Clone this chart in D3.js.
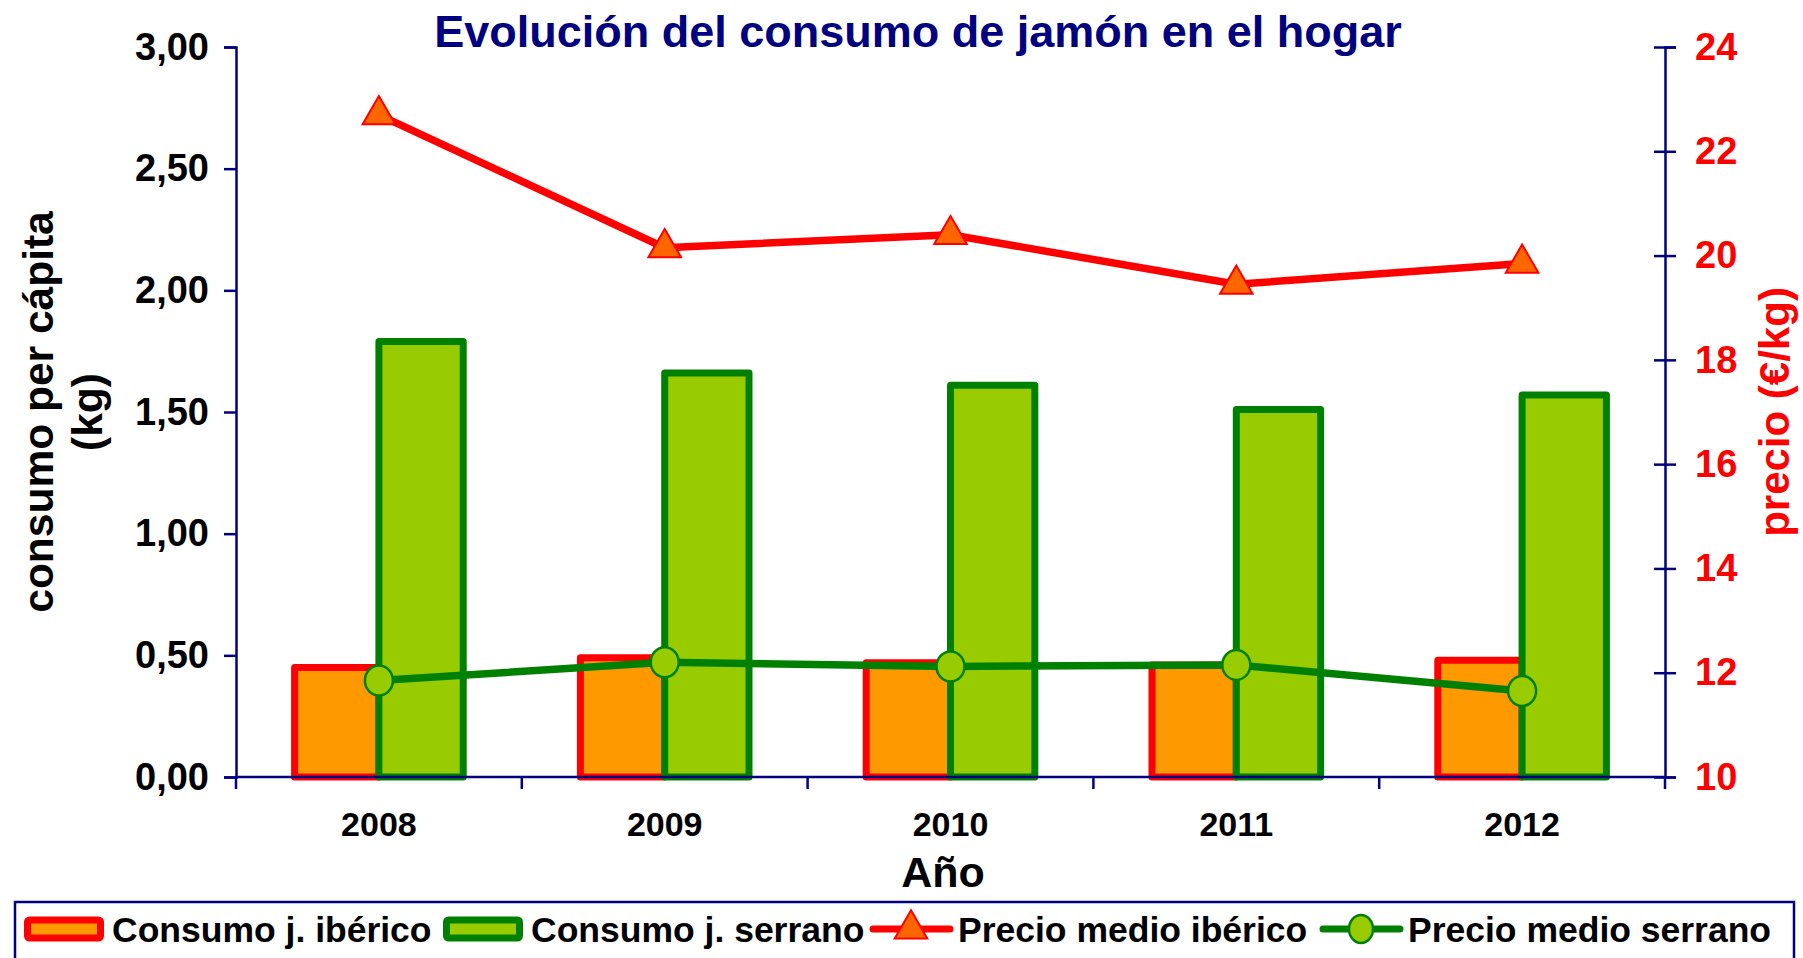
<!DOCTYPE html>
<html>
<head>
<meta charset="utf-8">
<script src="https://cdn.jsdelivr.net/npm/d3@7"></script>
<style>
  html, body { margin: 0; padding: 0; background: #fff; }
  svg { display: block; }
  text { font-family: "Liberation Sans", Arial, sans-serif; font-weight: bold; }
</style>
</head>
<body>
<svg id="chart" width="1803" height="958"></svg>
<script>
// ---------- data ----------
const years = ["2008", "2009", "2010", "2011", "2012"];
const consumoIberico = [0.45, 0.49, 0.47, 0.46, 0.48];
const consumoSerrano = [1.79, 1.66, 1.61, 1.51, 1.57];
const precioIberico = [22.7, 20.15, 20.4, 19.45, 19.85];
const precioSerrano = [11.85, 12.2, 12.12, 12.15, 11.65];
const leftTicks = [0, 0.5, 1.0, 1.5, 2.0, 2.5, 3.0];
const rightTicks = [10, 12, 14, 16, 18, 20, 22, 24];
const titleText = "Evolución del consumo de jamón en el hogar";
const xTitle = "Año";
const yTitleLines = ["consumo per cápita", "(kg)"];
const y2Title = "precio (€/kg)";
const legendLabels = ["Consumo j. ibérico", "Consumo j. serrano", "Precio medio ibérico", "Precio medio serrano"];

// ---------- styles ----------
const NAVY = "#000080";
const C = {
  ibFill: "#FF9900", ibStroke: "#FF0000",
  seFill: "#99CC00", seStroke: "#008000",
  lineIb: "#FF0000", triFill: "#FF6600",
  lineSe: "#008000", circFill: "#99CC00"
};

const svg = d3.select("#chart");
const plot = { left: 236, right: 1665, top: 47, bottom: 777 };

const x0 = d3.scaleBand().domain(years).range([plot.left, plot.right])
  .paddingInner(0.41).paddingOuter(0.205);
const x1 = d3.scaleBand().domain(["ib", "se"]).range([0, x0.bandwidth()]);
const yL = d3.scaleLinear().domain([0, 3]).range([plot.bottom, plot.top]);
const yR = d3.scaleLinear().domain([10, 24]).range([plot.bottom, plot.top]);
const step = x0.step();
const cx = d => x0(d) + x0.bandwidth() / 2;

const locale = d3.formatLocale({ decimal: ",", thousands: ".", grouping: [3], currency: ["", "€"] });
const fmt = locale.format(".2f");

// ---------- bars ----------
const gBars = svg.append("g");
const barW = x1.bandwidth();
gBars.selectAll("rect.ib").data(years).join("rect")
  .attr("x", (d) => x0(d) + x1("ib"))
  .attr("y", (d, i) => yL(consumoIberico[i]))
  .attr("width", barW)
  .attr("height", (d, i) => yL(0) - yL(consumoIberico[i]))
  .attr("fill", C.ibFill).attr("stroke", C.ibStroke).attr("stroke-width", 7)
  .attr("stroke-linejoin", "round");
gBars.selectAll("rect.se").data(years).join("rect")
  .attr("x", (d) => x0(d) + x1("se"))
  .attr("y", (d, i) => yL(consumoSerrano[i]))
  .attr("width", barW)
  .attr("height", (d, i) => yL(0) - yL(consumoSerrano[i]))
  .attr("fill", C.seFill).attr("stroke", C.seStroke).attr("stroke-width", 7)
  .attr("stroke-linejoin", "round");

// ---------- axes ----------
const axL = svg.append("g").attr("transform", `translate(${plot.left},0)`)
  .call(d3.axisLeft(yL).tickValues(leftTicks).tickSize(12).tickPadding(15).tickFormat(fmt));
axL.select(".domain").attr("stroke", NAVY).attr("stroke-width", 2.5);
axL.selectAll(".tick line").attr("stroke", NAVY).attr("stroke-width", 2.5);
axL.selectAll(".tick text").attr("fill", "#000").style("font-size", "38px")
  .style("font-family", '"Liberation Sans", Arial, sans-serif').style("font-weight", "bold");

const axR = svg.append("g").attr("transform", `translate(${plot.right},0)`)
  .call(d3.axisRight(yR).tickValues(rightTicks).tickSize(11).tickPadding(19).tickFormat(d3.format("d")));
axR.select(".domain").attr("stroke", NAVY).attr("stroke-width", 2.5);
axR.selectAll(".tick line").attr("stroke", NAVY).attr("stroke-width", 2.5).attr("x1", -11);
axR.selectAll(".tick text").attr("fill", "#FF0000").style("font-size", "38px")
  .style("font-family", '"Liberation Sans", Arial, sans-serif').style("font-weight", "bold");

// x axis line and boundary ticks
const gX = svg.append("g");
gX.append("line").attr("x1", plot.left).attr("x2", plot.right)
  .attr("y1", yL(0)).attr("y2", yL(0)).attr("stroke", NAVY).attr("stroke-width", 2.5);
const boundaries = d3.range(years.length + 1).map(i => plot.left + i * step);
gX.selectAll("line.tk").data(boundaries).join("line")
  .attr("x1", d => d).attr("x2", d => d)
  .attr("y1", yL(0)).attr("y2", yL(0) + 12)
  .attr("stroke", NAVY).attr("stroke-width", 2.5);
gX.selectAll("text.yr").data(years).join("text")
  .attr("x", d => cx(d)).attr("y", 836)
  .attr("text-anchor", "middle").style("font-size", "34px").text(d => d);

// ---------- lines ----------
const lineGen = d3.line().x((d, i) => cx(years[i])).y(d => yR(d));
svg.append("path").datum(precioIberico).attr("d", lineGen)
  .attr("fill", "none").attr("stroke", C.lineIb).attr("stroke-width", 7.5).attr("stroke-linejoin", "round");
svg.append("path").datum(precioSerrano).attr("d", lineGen)
  .attr("fill", "none").attr("stroke", C.lineSe).attr("stroke-width", 7.5).attr("stroke-linejoin", "round");

const tri = d3.symbol().type(d3.symbolTriangle).size(460);
svg.selectAll("path.tri").data(precioIberico).join("path")
  .attr("transform", (d, i) => `translate(${cx(years[i])},${yR(d)})`)
  .attr("d", tri).attr("fill", C.triFill).attr("stroke", C.lineIb).attr("stroke-width", 2);
svg.selectAll("ellipse.circ").data(precioSerrano).join("ellipse")
  .attr("cx", (d, i) => cx(years[i])).attr("cy", d => yR(d))
  .attr("rx", 14).attr("ry", 15)
  .attr("fill", C.circFill).attr("stroke", C.lineSe).attr("stroke-width", 2.5);

// ---------- titles ----------
svg.append("text").attr("x", 918).attr("y", 47).attr("text-anchor", "middle")
  .attr("fill", NAVY).style("font-size", "45px").text(titleText);
svg.append("text").attr("x", 943).attr("y", 887).attr("text-anchor", "middle")
  .attr("fill", "#000").style("font-size", "43px").text(xTitle);
const yMid = (plot.top + plot.bottom) / 2;
yTitleLines.forEach((t, i) => {
  svg.append("text").attr("transform", `translate(${53 + i * 49},${yMid}) rotate(-90)`)
    .attr("text-anchor", "middle").attr("fill", "#000").style("font-size", "42.5px").text(t);
});
svg.append("text").attr("transform", `translate(1789,${yMid}) rotate(-90)`)
  .attr("text-anchor", "middle").attr("fill", "#FF0000").style("font-size", "42px").text(y2Title);

// ---------- legend ----------
const lg = svg.append("g");
lg.append("rect").attr("x", 15).attr("y", 902).attr("width", 1779).attr("height", 60)
  .attr("fill", "#fff").attr("stroke", NAVY).attr("stroke-width", 2.5);
const legendY = 929;
const itemX = [24, 443, 870, 1320];
legendLabels.forEach((label, i) => {
  const lx = itemX[i];
  if (i === 0 || i === 1) {
    lg.append("rect").attr("x", lx + 3.5).attr("y", legendY - 9).attr("width", 73).attr("height", 18)
      .attr("rx", 2)
      .attr("fill", i === 0 ? C.ibFill : C.seFill)
      .attr("stroke", i === 0 ? C.ibStroke : C.seStroke).attr("stroke-width", 7);
  } else {
    const col = i === 2 ? C.lineIb : C.lineSe;
    lg.append("line").attr("x1", lx + 3).attr("x2", lx + 80).attr("y1", legendY).attr("y2", legendY)
      .attr("stroke", col).attr("stroke-width", 7).attr("stroke-linecap", "round");
    if (i === 2) {
      lg.append("path").attr("transform", `translate(${lx + 41},${legendY})`).attr("d", tri)
        .attr("fill", C.triFill).attr("stroke", col).attr("stroke-width", 2);
    } else {
      lg.append("ellipse").attr("cx", lx + 41).attr("cy", legendY).attr("rx", 12).attr("ry", 14)
        .attr("fill", C.circFill).attr("stroke", col).attr("stroke-width", 2.5);
    }
  }
  lg.append("text").attr("x", lx + 88).attr("y", legendY + 13)
    .attr("fill", "#000").style("font-size", "35.5px").text(label);
});
</script>
</body>
</html>
